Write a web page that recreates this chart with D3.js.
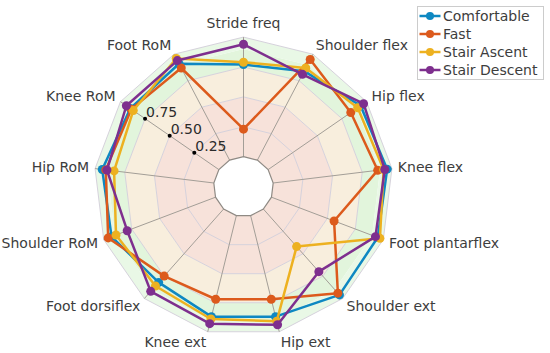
<!DOCTYPE html>
<html><head><meta charset="utf-8">
<script src="https://cdn.jsdelivr.net/npm/d3@7"></script>
<style>body{margin:0;background:#fff}svg{display:block}text{font-family:"DejaVu Sans",sans-serif}</style>
</head><body><svg id="c" width="550" height="353"></svg>
<script>
const axes = ["Stride freq","Shoulder flex","Hip flex","Knee flex","Foot plantarflex","Shoulder ext","Hip ext","Knee ext","Foot dorsiflex","Shoulder RoM","Hip RoM","Knee RoM","Foot RoM"];
const seriesNames = ["Comfortable","Fast","Stair Ascent","Stair Descent"];
const comfortable  = [0.77,0.84,0.94,0.96,0.95,0.96,0.87,0.87,0.82,0.93,0.94,0.90,0.91];
const fast         = [0.23,0.95,0.84,0.88,0.56,0.94,0.72,0.72,0.75,0.96,0.91,0.89,0.87];
const stairAscent  = [0.79,0.87,0.91,0.93,0.97,0.42,0.91,0.89,0.86,0.89,0.84,0.87,0.96];
const stairDescent = [0.94,0.81,0.97,0.94,0.93,0.70,0.94,0.93,0.92,0.79,0.90,0.94,0.94];
const radialTicks = [0.25,0.5,0.75];
const radialTickLabels = ["0.25","0.50","0.75"];
const gridRings = [0.25,0.5,0.75,1];
const bandEdges = [[0,0.5],[0.5,0.75],[0.75,0.9],[0.9,1]];

const colors = ["#0e88c2","#dc5a1c","#edb120","#7e2f8e"];
const bandColors = ["#f7e2da","#f8eedd","#e2f5dc","#e9f8e6"];
const allSeries = [comfortable, fast, stairAscent, stairDescent];

const svg = d3.select("#c");
const cx = 243.5, cy = 186.6, R = 149.5, hole = 0.2*R;
const n = axes.length;
const r = d3.scaleLinear().domain([0,1]).range([hole,R]);
const ang = d3.scaleLinear().domain([0,n]).range([0,2*Math.PI]);
const g = svg.append("g").attr("transform",`translate(${cx},${cy})`);
const idx = d3.range(n);
const ringPath = v => d3.lineRadial().angle(i=>ang(i)).radius(()=>r(v)).curve(d3.curveLinearClosed)(idx);

// bands
g.selectAll("path.band").data(bandEdges).join("path")
  .attr("d", d => ringPath(d[1]) + ringPath(d[0]))
  .attr("fill-rule","evenodd")
  .attr("fill",(d,i)=>bandColors[i]);

// rings
g.selectAll("path.ring").data(gridRings).join("path")
  .attr("d", d=>ringPath(d)).attr("fill","none").attr("stroke","#d6d2dc").attr("stroke-width",1);

// spokes
g.selectAll("line.spoke").data(idx).join("line")
  .attr("x1",i=>r(0)*Math.sin(ang(i))).attr("y1",i=>-r(0)*Math.cos(ang(i)))
  .attr("x2",i=>r(1)*Math.sin(ang(i))).attr("y2",i=>-r(1)*Math.cos(ang(i)))
  .attr("stroke","#a39e97").attr("stroke-width",1);

// hole
g.append("path").attr("d",ringPath(0)).attr("fill","#fff").attr("stroke","#8f8a84").attr("stroke-width",1.2);

// series
const line = d3.lineRadial().angle((d,i)=>ang(i)).radius(d=>r(d)).curve(d3.curveLinearClosed);
allSeries.forEach((s,k)=>{
  const sg = g.append("g");
  sg.append("path").attr("d",line(s)).attr("fill","none").attr("stroke",colors[k]).attr("stroke-width",2.5).attr("stroke-linejoin","round");
  sg.selectAll("circle").data(s).join("circle")
    .attr("cx",(d,i)=>r(d)*Math.sin(ang(i))).attr("cy",(d,i)=>-r(d)*Math.cos(ang(i)))
    .attr("r",4.5).attr("fill",colors[k]);
});

// radial ticks along Knee RoM axis
const tickAxis = 11;
const ta = ang(tickAxis);
g.selectAll("circle.tick").data(radialTicks).join("circle")
  .attr("cx",d=>r(d)*Math.sin(ta)).attr("cy",d=>-r(d)*Math.cos(ta)).attr("r",2).attr("fill","#000");
g.selectAll("text.tick").data(radialTicks).join("text")
  .attr("x",d=>r(d)*Math.sin(ta)+1).attr("y",d=>-r(d)*Math.cos(ta)-1.5)
  .attr("font-size",14).attr("fill","#2b2b2b").text((d,i)=>radialTickLabels[i]);

// axis labels
g.selectAll("text.ax").data(axes).join("text")
  .attr("font-size",14).attr("fill","#3d3d3d")
  .each(function(d,i){
    const a = ang(i), s = Math.sin(a), c = Math.cos(a);
    const rr = R + 6;
    const x = rr*s, y = -rr*c;
    const anchor = Math.abs(s) < 0.1 ? "middle" : (s > 0 ? "start" : "end");
    const dy = Math.abs(s) < 0.1 ? -c*8.5 : -c*4.5;
    d3.select(this).attr("x",x).attr("y",y+dy+5).attr("text-anchor",anchor).text(d);
  });

// legend
const lg = svg.append("g").attr("transform","translate(417.5,6.5)");
lg.append("rect").attr("width",126).attr("height",73).attr("fill","#fff").attr("stroke","#cccccc").attr("stroke-width",1);
seriesNames.forEach((nm,k)=>{
  const y = 9.5 + k*18;
  lg.append("line").attr("x1",2).attr("x2",23).attr("y1",y).attr("y2",y).attr("stroke",colors[k]).attr("stroke-width",2.5);
  lg.append("circle").attr("cx",12.5).attr("cy",y).attr("r",4).attr("fill",colors[k]);
  lg.append("text").attr("x",25.5).attr("y",y+5).attr("font-size",14).attr("fill","#3d3d3d").text(nm);
});
</script></body></html>
